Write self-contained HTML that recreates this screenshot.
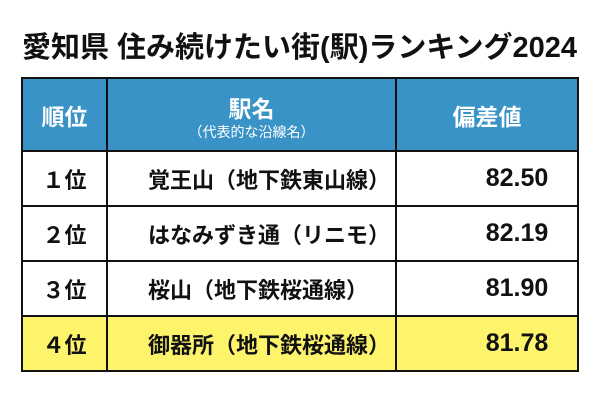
<!DOCTYPE html>
<html><head><meta charset="utf-8"><style>
body{margin:0;width:600px;height:400px;background:#fff;font-family:"Liberation Sans","Noto Sans CJK JP",sans-serif;position:relative;overflow:hidden}
.t{position:absolute;left:22px;top:24px;font-size:29px;font-weight:bold;color:#111;white-space:nowrap;letter-spacing:0px}
table{position:absolute;left:21px;top:77px;border-collapse:collapse;table-layout:fixed;width:556px}
td{border:2.5px solid #111;padding:0;font-weight:bold;color:#111;overflow:hidden;white-space:nowrap}
.h td{background:#3a93c7;color:#fff;height:71px;text-align:center;font-size:23px}
.h small{display:block;font-size:14px;font-weight:normal;line-height:16px}
.r td{height:53px;font-size:22px}
.c1{text-align:center}
.c2{padding-left:40px}
.c3{text-align:center;font-size:25px!important}
.r .c3{padding-left:60px}
.y td{background:#fdf46c}
</style></head><body>
<div class="t">愛知県 住み続けたい街(駅)ランキング2024</div>
<table>
<col style="width:85px"><col style="width:289px"><col style="width:182px">
<tr class="h"><td class="c1">順位</td><td>駅名<small>（代表的な沿線名）</small></td><td class="c3" style="font-size:23px!important">偏差値</td></tr>
<tr class="r"><td class="c1">１位</td><td class="c2">覚王山（地下鉄東山線）</td><td class="c3">82.50</td></tr>
<tr class="r"><td class="c1">２位</td><td class="c2">はなみずき通（リニモ）</td><td class="c3">82.19</td></tr>
<tr class="r"><td class="c1">３位</td><td class="c2">桜山（地下鉄桜通線）</td><td class="c3">81.90</td></tr>
<tr class="r y"><td class="c1">４位</td><td class="c2">御器所（地下鉄桜通線）</td><td class="c3">81.78</td></tr>
</table>
</body></html>
